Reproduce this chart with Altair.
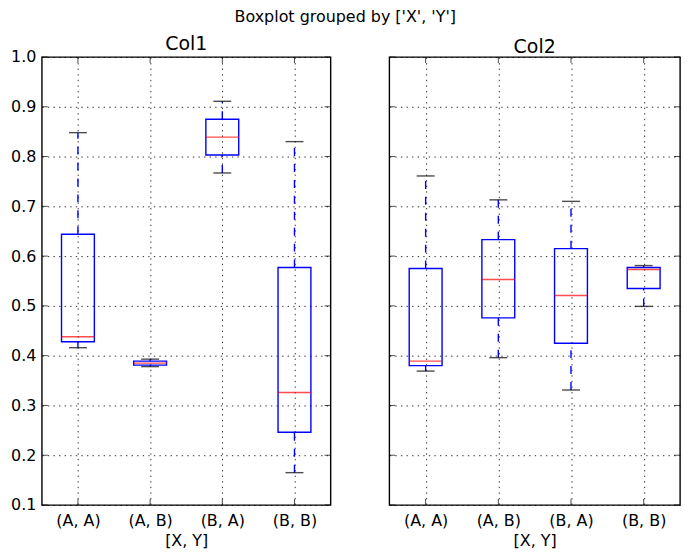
import altair as alt
import pandas as pd

groups = ["(A, A)", "(A, B)", "(B, A)", "(B, B)"]

col1_low = [0.416, 0.378, 0.767, 0.165]
col1_q1 = [0.428, 0.381, 0.803, 0.246]
col1_med = [0.438, 0.385, 0.839, 0.326]
col1_q3 = [0.644, 0.389, 0.875, 0.577]
col1_high = [0.848, 0.393, 0.911, 0.830]

col2_low = [0.369, 0.396, 0.331, 0.499]
col2_q1 = [0.380, 0.476, 0.425, 0.535]
col2_med = [0.389, 0.553, 0.521, 0.573]
col2_q3 = [0.575, 0.633, 0.615, 0.577]
col2_high = [0.761, 0.713, 0.710, 0.581]

y_ticks = [0.1, 0.2, 0.3, 0.4, 0.5, 0.6, 0.7, 0.8, 0.9, 1.0]

FONT = "DejaVu Sans"
H = 450
LW = 1.4
GRID = dict(grid=True, gridDash=[1.4, 4.2], gridColor="black", gridOpacity=1,
            gridWidth=0.8)


def panel(name, low, q1, med, q3, high, show_labels, W, title_offset):
    df = pd.DataFrame({"group": groups, "low": low, "q1": q1, "med": med,
                       "q3": q3, "high": high})
    x = alt.X("group:N", sort=groups, scale=alt.Scale(type="point", padding=0.5),
              title="[X, Y]",
              axis=alt.Axis(ticks=False, domain=False,
                            labelAngle=0, labelFontSize=16, labelPadding=8,
                            titleFontSize=16, titleFontWeight="normal",
                            titlePadding=4, labelColor="black",
                            titleColor="black", labelFont=FONT, titleFont=FONT,
                            **GRID))
    yscale = alt.Scale(domain=[0.1, 1.0], nice=False, zero=False, padding=0)
    yaxis = alt.Axis(values=y_ticks, format=".1f", ticks=False,
                     domain=False, labels=show_labels, labelFontSize=16,
                     labelPadding=6, labelColor="black", labelFont=FONT,
                     minExtent=0, **GRID)
    xs = alt.X("group:N", sort=groups)
    base = alt.Chart(df)
    box = base.mark_bar(width=33, fillOpacity=0, stroke="blue",
                        strokeWidth=LW).encode(
        x=x, y=alt.Y("q1:Q", scale=yscale, axis=yaxis, title=None), y2="q3:Q")
    wlo = base.mark_rule(color="blue", strokeDash=[8, 8], strokeWidth=LW).encode(
        x=xs, y="low:Q", y2="q1:Q")
    whi = base.mark_rule(color="blue", strokeDash=[8, 8], strokeWidth=LW).encode(
        x=xs, y="q3:Q", y2="high:Q")
    cap_lo = base.mark_tick(color="black", size=18, thickness=LW,
                            orient="horizontal").encode(x=xs, y="low:Q")
    cap_hi = base.mark_tick(color="black", size=18, thickness=LW,
                            orient="horizontal").encode(x=xs, y="high:Q")
    med_m = base.mark_tick(color="red", size=33, thickness=LW,
                           orient="horizontal").encode(x=xs, y="med:Q")

    tdf = pd.DataFrame({"v": y_ticks})
    ytick_l = alt.Chart(tdf).mark_tick(color="black", size=6, thickness=1,
                                       orient="horizontal").encode(
        y="v:Q", x=alt.value(3))
    ytick_r = alt.Chart(tdf).mark_tick(color="black", size=6, thickness=1,
                                       orient="horizontal").encode(
        y="v:Q", x=alt.value(W - 3))
    xtick_b = base.mark_tick(color="black", size=6, thickness=1,
                             orient="vertical").encode(x=xs, y=alt.value(H - 3))
    xtick_t = base.mark_tick(color="black", size=6, thickness=1,
                             orient="vertical").encode(x=xs, y=alt.value(3))

    return alt.layer(box, wlo, whi, cap_lo, cap_hi, med_m,
                     ytick_l, ytick_r, xtick_b, xtick_t).properties(
        width=W, height=H,
        title=alt.TitleParams(name, fontSize=19, fontWeight="normal",
                              font=FONT, color="black", offset=title_offset))


p1 = panel("Col1", col1_low, col1_q1, col1_med, col1_q3, col1_high, True, 290, -5)
p2 = panel("Col2", col2_low, col2_q1, col2_med, col2_q3, col2_high, False, 292, 0)

chart = alt.hconcat(p1, p2, spacing=57).properties(
    title=alt.TitleParams("Boxplot grouped by ['X', 'Y']", fontSize=16,
                          fontWeight="normal", font=FONT, color="black",
                          anchor="middle", offset=9),
    padding={"left": 1, "top": 0, "right": 0, "bottom": 0},
    background="white",
).configure_view(stroke="black", strokeWidth=LW, strokeOpacity=1)

chart.save("out.html", embed_options={"renderer": "svg", "actions": False})
